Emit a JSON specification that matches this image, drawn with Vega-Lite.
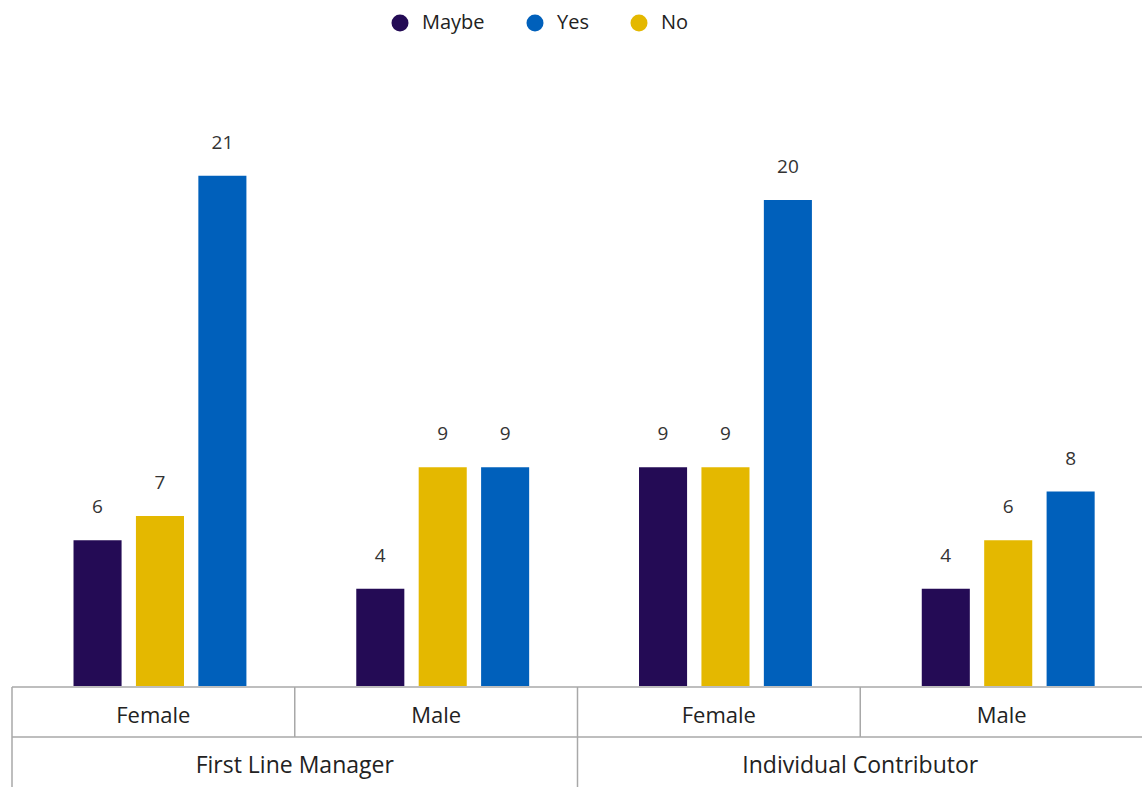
{
  "$schema": "https://vega.github.io/schema/vega-lite/v6.json",
  "autosize": {"type": "pad"},
  "padding": {"left": 11, "top": 13, "right": 0, "bottom": 0},
  "background": "white",
  "config": {
    "font": "Open Sans",
    "view": {"stroke": null},
    "concat": {"spacing": 0}
  },
  "datasets": {
    "bars": [
      {"group": "FLM Female", "role": "First Line Manager", "gender": "Female", "answer": "Maybe", "count": 6},
      {"group": "FLM Female", "role": "First Line Manager", "gender": "Female", "answer": "No", "count": 7},
      {"group": "FLM Female", "role": "First Line Manager", "gender": "Female", "answer": "Yes", "count": 21},
      {"group": "FLM Male", "role": "First Line Manager", "gender": "Male", "answer": "Maybe", "count": 4},
      {"group": "FLM Male", "role": "First Line Manager", "gender": "Male", "answer": "No", "count": 9},
      {"group": "FLM Male", "role": "First Line Manager", "gender": "Male", "answer": "Yes", "count": 9},
      {"group": "IC Female", "role": "Individual Contributor", "gender": "Female", "answer": "Maybe", "count": 9},
      {"group": "IC Female", "role": "Individual Contributor", "gender": "Female", "answer": "No", "count": 9},
      {"group": "IC Female", "role": "Individual Contributor", "gender": "Female", "answer": "Yes", "count": 20},
      {"group": "IC Male", "role": "Individual Contributor", "gender": "Male", "answer": "Maybe", "count": 4},
      {"group": "IC Male", "role": "Individual Contributor", "gender": "Male", "answer": "No", "count": 6},
      {"group": "IC Male", "role": "Individual Contributor", "gender": "Male", "answer": "Yes", "count": 8}
    ],
    "cells": [
      {"group": "FLM Female", "role": "First Line Manager", "gender": "Female"},
      {"group": "FLM Male", "role": "First Line Manager", "gender": "Male"},
      {"group": "IC Female", "role": "Individual Contributor", "gender": "Female"},
      {"group": "IC Male", "role": "Individual Contributor", "gender": "Male"}
    ],
    "roles": [
      {"role": "First Line Manager"},
      {"role": "Individual Contributor"}
    ]
  },
  "vconcat": [
    {
      "width": 1131,
      "height": 636,
      "data": {"name": "bars"},
      "encoding": {
        "x": {"field": "group", "type": "nominal", "sort": ["FLM Female", "FLM Male", "IC Female", "IC Male"], "scale": {"paddingInner": 0, "paddingOuter": 0}, "axis": null},
        "xOffset": {"field": "answer", "type": "nominal", "sort": ["Maybe", "No", "Yes"], "scale": {"paddingInner": 0.23, "paddingOuter": 0.88, "align": 0.56}},
        "y": {"field": "count", "type": "quantitative", "scale": {"domain": [0, 26.17], "nice": false}, "axis": null}
      },
      "layer": [
        {
          "mark": {"type": "bar"},
          "encoding": {
            "color": {
              "field": "answer", "type": "nominal",
              "scale": {"domain": ["Maybe", "Yes", "No"], "range": ["#240b55", "#0060bb", "#e4b800"]},
              "legend": {
                "title": null, "orient": "none", "direction": "horizontal",
                "legendX": 378, "legendY": -37,
                "symbolType": "circle", "symbolSize": 289, "symbolStrokeWidth": 0,
                "labelFontSize": 20, "labelColor": "#222222", "labelFont": "Open Sans",
                "labelOffset": 12, "columnPadding": 40
              }
            }
          }
        },
        {
          "mark": {"type": "text", "baseline": "middle", "dy": -33, "fontSize": 19, "color": "#333333"},
          "encoding": {"text": {"field": "count", "type": "quantitative"}}
        }
      ]
    },
    {
      "width": 1131,
      "height": 100,
      "resolve": {"scale": {"x": "independent"}},
      "layer": [
        {
          "data": {"values": [{"level": 0}, {"level": 1}]},
          "mark": {"type": "rule", "color": "#a8a8a8", "strokeWidth": 1.5},
          "encoding": {
            "y": {"field": "level", "type": "quantitative", "scale": {"domain": [0, 2], "reverse": true, "nice": false}, "axis": null}
          }
        },
        {
          "data": {"name": "cells"},
          "mark": {"type": "rule", "color": "#a8a8a8", "strokeWidth": 1.5},
          "encoding": {
            "x": {"field": "group", "type": "nominal", "sort": ["FLM Female", "FLM Male", "IC Female", "IC Male"], "scale": {"paddingInner": 0, "paddingOuter": 0}, "axis": null, "bandPosition": 0},
            "y": {"datum": 0, "type": "quantitative"},
            "y2": {"datum": 1}
          }
        },
        {
          "data": {"name": "cells"},
          "mark": {"type": "text", "fontSize": 22, "color": "#222222", "baseline": "middle", "dy": 4},
          "encoding": {
            "x": {"field": "group", "type": "nominal", "sort": ["FLM Female", "FLM Male", "IC Female", "IC Male"], "scale": {"paddingInner": 0, "paddingOuter": 0}, "axis": null},
            "y": {"datum": 0.5, "type": "quantitative"},
            "text": {"field": "gender"}
          }
        },
        {
          "data": {"name": "roles"},
          "layer": [
            {
              "mark": {"type": "rule", "color": "#a8a8a8", "strokeWidth": 1.5},
              "encoding": {
                "x": {"field": "role", "type": "nominal", "sort": ["First Line Manager", "Individual Contributor"], "scale": {"paddingInner": 0, "paddingOuter": 0}, "axis": null, "bandPosition": 0},
                "y": {"datum": 1, "type": "quantitative"},
                "y2": {"datum": 2}
              }
            },
            {
              "mark": {"type": "text", "fontSize": 23, "color": "#222222", "baseline": "middle", "dy": 4},
              "encoding": {
                "x": {"field": "role", "type": "nominal", "sort": ["First Line Manager", "Individual Contributor"], "scale": {"paddingInner": 0, "paddingOuter": 0}, "axis": null},
                "y": {"datum": 1.5, "type": "quantitative"},
                "text": {"field": "role"}
              }
            }
          ]
        }
      ]
    }
  ]
}
